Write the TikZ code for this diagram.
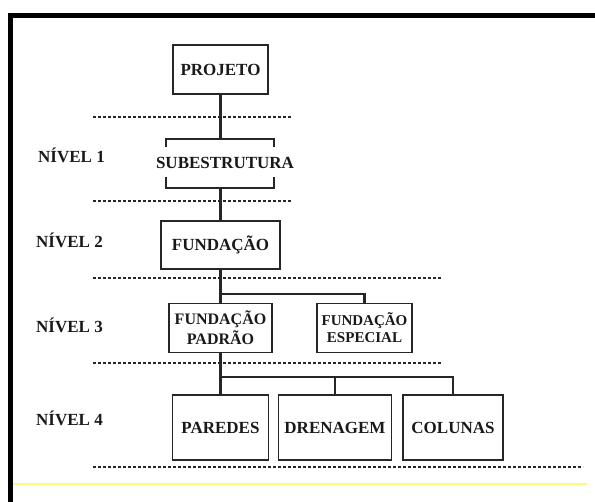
\documentclass[tikz,border=0pt]{standalone}
\usepackage{fontspec}
\setmainfont{Liberation Serif}
\begin{document}
\begin{tikzpicture}[x=1pt,y=-1pt,
  box/.style={draw=black!85,line width=1.8pt,inner sep=0pt,font=\fontsize{17}{19}\selectfont\bfseries,text=black!90},
  lbl/.style={inner sep=0pt,anchor=west,font=\fontsize{17}{19}\selectfont\bfseries,text=black!90},
  conn/.style={draw=black!85,line width=2.2pt},
  lvl/.style={draw=black!85,line width=2pt,dash pattern=on 3.4pt off 1.6pt},
  frame/.style={draw=black,line width=5pt}]
\useasboundingbox (0,0) rectangle (595,502);
% frame
\draw[frame] (8,15.5) -- (595,15.5);
\draw[frame] (10.5,13) -- (10.5,502);
\draw[draw={rgb,255:red,255;green,250;blue,120},line width=2.2pt] (13,484) -- (587,484);
% level separators
\draw[lvl] (93,117) -- (292,117);
\draw[lvl] (93,201) -- (292,201);
\draw[lvl] (93,278) -- (441,278);
\draw[lvl] (93,363) -- (441,363);
\draw[lvl] (93,467) -- (583,467);
% level labels
\node[lbl] (n1) at (38,155) {NÍVEL 1};
\node[lbl] (n2) at (36,240) {NÍVEL 2};
\node[lbl] (n3) at (36,325) {NÍVEL 3};
\node[lbl] (n4) at (36,418) {NÍVEL 4};
% boxes
\node[box,minimum width=95pt,minimum height=49pt] (proj) at (220.5,69.5) {PROJETO};
\node[inner sep=0pt,font=\fontsize{17}{19}\selectfont\bfseries,text=black!90] (sub) at (225,163) {SUBESTRUTURA};
\node[box,minimum width=119pt,minimum height=48pt] (fund) at (220.5,245) {FUNDAÇÃO};
\node[box,minimum width=103pt,minimum height=49pt,align=center,font=\fontsize{16}{20}\selectfont\bfseries] (pad) at (220.5,328) {FUNDAÇÃO\\PADRÃO};
\node[box,minimum width=95pt,minimum height=49pt,align=center,font=\fontsize{15}{17}\selectfont\bfseries] (esp) at (364.5,328) {FUNDAÇÃO\\ESPECIAL};
\node[box,minimum width=96pt,minimum height=65pt] (par) at (220.5,427.5) {PAREDES};
\node[box,minimum width=113pt,minimum height=65pt] (dre) at (335,427.5) {DRENAGEM};
\node[box,minimum width=100pt,minimum height=65pt] (col) at (453,427.5) {COLUNAS};
% brackets around SUBESTRUTURA
\coordinate (bt) at (220.5,139);
\coordinate (bb) at (220.5,188);
\draw[conn] (166,147) -- (166,139) -- (274,139) -- (274,147);
\draw[conn] (166,177) -- (166,188) -- (274,188) -- (274,177);
% connectors
\draw[conn] (proj.south) -- (bt);
\draw[conn] (bb) -- (fund.north);
\coordinate (b3) at (220.5,294);
\draw[conn] (fund.south) -- (pad.north);
\draw[conn] (b3) -| (esp.north);
\coordinate (b4) at (220.5,377);
\draw[conn] (pad.south) -- (par.north);
\draw[conn] (b4) -| (dre.north);
\draw[conn] (b4) -| (col.north);
\end{tikzpicture}
\end{document}
